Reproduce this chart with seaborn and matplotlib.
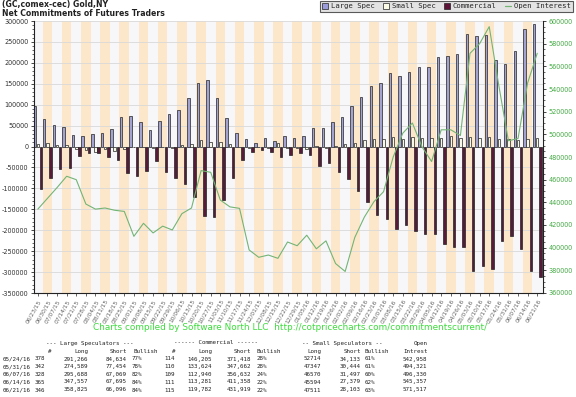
import numpy as np
import pandas as pd
import matplotlib
matplotlib.use("Agg")
import matplotlib.pyplot as plt
from matplotlib.patches import Patch
from matplotlib.lines import Line2D
from matplotlib.ticker import MultipleLocator, FuncFormatter
import seaborn as sns

# ---------------- data ----------------
dates = ["06/23/15", "06/30/15", "07/07/15", "07/14/15", "07/21/15", "07/28/15", "08/04/15",
         "08/11/15", "08/18/15", "08/25/15", "09/01/15", "09/08/15", "09/15/15", "09/22/15",
         "09/29/15", "10/06/15", "10/13/15", "10/20/15", "10/27/15", "11/03/15", "11/10/15",
         "11/17/15", "11/24/15", "12/01/15", "12/08/15", "12/15/15", "12/22/15", "12/29/15",
         "01/05/16", "01/12/16", "01/19/16", "01/26/16", "02/02/16", "02/09/16", "02/16/16",
         "02/23/16", "03/01/16", "03/08/16", "03/15/16", "03/22/16", "03/29/16", "04/05/16",
         "04/12/16", "04/19/16", "04/26/16", "05/03/16", "05/10/16", "05/17/16", "05/24/16",
         "05/31/16", "06/07/16", "06/14/16", "06/21/16"]

large_spec = [97000, 67000, 50600, 47000, 27500, 25000, 30000, 33000, 42000, 70500,
              72000, 59000, 39400, 61000, 77000, 87000, 116000, 151000, 158000, 116000,
              69000, 33000, 17000, 9000, 20000, 14000, 26000, 19500, 26000, 45000,
              43500, 58000, 71000, 98000, 117500, 145000, 153000, 175000, 169000, 178000,
              189000, 189000, 214000, 216000, 220000, 270000, 264000, 266000, 206632, 197135,
              228619, 279862, 292729]

small_spec = [5000, 9000, 4000, 3600, -5000, -9000, -12000, -7000, -10000, -6000,
              -2000, -1000, -4000, -1000, -2500, 2600, 5000, 15000, 10000, 12000,
              5000, -2000, -3000, -1000, -4000, 8000, -4000, -3500, -6000, 1000,
              -3500, 2000, 7000, 8000, 14500, 19000, 19000, 23000, 19000, 23000,
              21000, 21000, 20000, 25000, 21000, 22000, 20000, 22000, 18581, 16903,
              15073, 18215, 19408]

commercial = [-102000, -76000, -54600, -50600, -22000, -16000, -16000, -26000, -31000, -64000,
              -70000, -58000, -35000, -60000, -74500, -89600, -121000, -166000, -168000, -128000,
              -74000, -31000, -14000, -8000, -14000, -24000, -20000, -16000, -20000, -46000,
              -40000, -60000, -78000, -106000, -132000, -164000, -172000, -198000, -188000, -201000,
              -210000, -210000, -233000, -241000, -241000, -297000, -286000, -292000, -225213, -214038,
              -243692, -298077, -312137]

open_interest = [434000, 443500, 453000, 463000, 460000, 438500, 434000, 435000, 433000, 432000,
                 410000, 421500, 413000, 419000, 415600, 430000, 435000, 468000, 466500, 442000,
                 436000, 434700, 398000, 391500, 393500, 390600, 405000, 401700, 411000, 399000,
                 406000, 386000, 379000, 409000, 427000, 440600, 449400, 480000, 501000, 510000,
                 489000, 476000, 504000, 504000, 499000, 571500, 580000, 595000, 542958, 494321,
                 496330, 545357, 571517]

series_names = ["Large Spec", "Small Spec", "Commercial"]
series_colors = ["#9b9bd9", "#fbfbe6", "#5e1238"]
oi_color = "#74b474"

# table at the bottom
table_dates = ["05/24/16", "05/31/16", "06/07/16", "06/14/16", "06/21/16"]
ls_num = ["378", "342", "328", "365", "346"]
ls_long = ["291,266", "274,589", "295,688", "347,557", "358,825"]
ls_short = ["84,634", "77,454", "67,069", "67,695", "66,096"]
ls_bull = ["77%", "78%", "82%", "84%", "84%"]
cm_num = ["114", "110", "109", "111", "115"]
cm_long = ["146,205", "133,624", "112,940", "113,281", "119,782"]
cm_short = ["371,418", "347,662", "356,632", "411,358", "431,919"]
cm_bull = ["28%", "28%", "24%", "22%", "22%"]
ss_long = ["52714", "47347", "46570", "45594", "47511"]
ss_short = ["34,133", "30,444", "31,497", "27,379", "28,103"]
ss_bull = ["61%", "61%", "60%", "62%", "63%"]
oi_table = ["542,958", "494,321", "496,330", "545,357", "571,517"]

# ---------------- figure ----------------
sns.set_style("white")
W, H = 576, 397
fig = plt.figure(figsize=(W / 100, H / 100), dpi=100)
fig.patch.set_facecolor("white")
ax = fig.add_axes([34 / W, 1 - 293 / H, (543 - 34) / W, (293 - 21) / H])

n = len(dates)
idx = np.arange(n)

# alternating week bands
for i in range(n):
    ax.axvspan(i - 0.5, i + 0.5, color="#fde7cb" if i % 2 == 1 else "#f7f7fa",
               lw=0, zorder=0.1)

df = pd.DataFrame({
    "week": np.tile(idx, 3),
    "series": np.repeat(series_names, n),
    "value": large_spec + small_spec + commercial,
})
sns.barplot(data=df, x="week", y="value", hue="series", hue_order=series_names,
            palette=series_colors, width=1.0, gap=0.22, errorbar=None,
            edgecolor="#222222", linewidth=0.5, legend=False, ax=ax, zorder=2)

ax.set_xlim(-0.4, n - 0.4)
ax.set_ylim(-350000, 300000)
ax.yaxis.set_major_locator(MultipleLocator(50000))
ax.yaxis.set_minor_locator(MultipleLocator(10000))
ax.yaxis.grid(True, which="major", color="#d8d8d8", lw=0.6, zorder=0.5)
ax.set_axisbelow(True)
ax.yaxis.set_major_formatter(FuncFormatter(lambda v, p: f"{int(v)}"))
ax.tick_params(axis="y", which="major", labelsize=4.7, labelcolor="#333333",
               length=2.5, width=0.6, direction="out", left=True, pad=1.5)
ax.tick_params(axis="y", which="minor", length=1.3, width=0.5, direction="out", left=True)
ax.set_xticks(idx)
ax.set_xticklabels(dates, rotation=60, ha="right", rotation_mode="anchor",
                   fontsize=4.2, color="#666666")
ax.tick_params(axis="x", length=2, width=0.5, direction="out", bottom=True, pad=2)
ax.set_xlabel("")
ax.set_ylabel("")
for s in ["top", "right"]:
    ax.spines[s].set_visible(False)
for s in ["left", "bottom"]:
    ax.spines[s].set_color("#222222")
    ax.spines[s].set_linewidth(0.8)

# open interest on right axis
ax2 = ax.twinx()
sns.lineplot(x=idx, y=open_interest, ax=ax2, color=oi_color, lw=0.8)
ax2.set_ylim(360000, 600000)
ax2.set_xlim(-0.4, n - 0.4)
ax2.yaxis.set_major_locator(MultipleLocator(20000))
ax2.yaxis.set_minor_locator(MultipleLocator(5000))
ax2.yaxis.set_major_formatter(FuncFormatter(lambda v, p: f"{int(v)}"))
ax2.tick_params(axis="y", which="major", labelsize=4.7, labelcolor="#44aa44",
                length=2.5, width=0.6, direction="out", right=True, pad=1.5)
ax2.tick_params(axis="y", which="minor", length=1.3, width=0.5, direction="out", right=True)
for s in ["top", "left", "bottom"]:
    ax2.spines[s].set_visible(False)
ax2.spines["right"].set_color("#222222")
ax2.spines["right"].set_linewidth(0.8)

# titles
fig.text(2 / W, 1 - 5 / H, "(GC,comex-cec) Gold,NY", fontsize=5.6, weight="bold",
         color="#222222", va="center", ha="left")
fig.text(2 / W, 1 - 14 / H, "Net Commitments of Futures Traders", fontsize=5.6,
         weight="bold", color="#222222", va="center", ha="left")

# legend
handles = [Patch(facecolor=c, edgecolor="#222222", lw=0.5) for c in series_colors]
handles.append(Line2D([0], [0], color=oi_color, lw=0.9))
leg = fig.legend(handles, series_names + ["Open Interest"], loc="upper right",
                 bbox_to_anchor=(573 / W, 1 - 1 / H), ncol=4, frameon=True,
                 fancybox=False, facecolor="#dcdcdc", edgecolor="#333333",
                 prop={"family": "DejaVu Sans Mono", "size": 5.2},
                 handlelength=0.8, handleheight=0.8, handletextpad=0.4,
                 columnspacing=1.2, borderpad=0.3, borderaxespad=0)
leg.get_frame().set_linewidth(0.8)

# footer
fig.text(290 / W, 1 - 328 / H,
         "Charts compiled by Software North LLC  http://cotpricecharts.com/commitmentscurrent/",
         fontsize=6.4, color="#3ddc3d", ha="center", va="center")

# table
tf = {"family": "DejaVu Sans Mono", "size": 4.2, "color": "#222222"}
def t(x, y, s, ha="right"):
    fig.text(x / W, 1 - y / H, s, ha=ha, va="center", **tf)

t(90, 343, "--- Large Speculators ---", ha="center")
t(216, 343, "------ Commercial ------", ha="center")
t(342, 343, "-- Small Speculators --", ha="center")
t(428, 343, "Open")
hy = 351.7
t(50, hy, "#", ha="center")
t(88, hy, "Long"); t(127, hy, "Short"); t(158, hy, "Bullish")
t(174, hy, "#", ha="center")
t(212, hy, "Long"); t(251, hy, "Short"); t(281, hy, "Bullish")
t(321, hy, "Long"); t(361, hy, "Short"); t(389, hy, "Bullish")
t(428, hy, "Intrest")

row_y = [359, 366.7, 374.3, 382, 390]
for r, y in enumerate(row_y):
    t(3, y, table_dates[r], ha="left")
    t(45, y, ls_num[r]); t(88, y, ls_long[r]); t(127, y, ls_short[r]); t(142, y, ls_bull[r])
    t(175, y, cm_num[r]); t(212, y, cm_long[r]); t(251, y, cm_short[r]); t(267, y, cm_bull[r])
    t(321, y, ss_long[r]); t(361, y, ss_short[r]); t(375, y, ss_bull[r])
    t(427, y, oi_table[r])

fig.savefig("out.png", dpi=100, facecolor="white")
